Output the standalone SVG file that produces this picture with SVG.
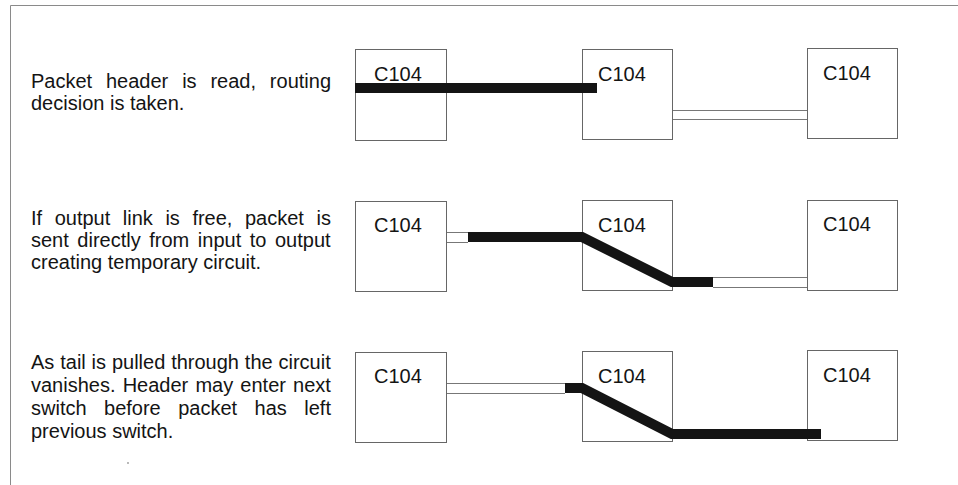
<svg xmlns="http://www.w3.org/2000/svg" width="958" height="485" viewBox="0 0 958 485">
<style>
  .box { fill: #ffffff; stroke: #666666; stroke-width: 1; }
  .lbl { font-family: "Liberation Sans", Arial, sans-serif; font-size: 20px; fill: #141414; }
  .txt { font-family: "Liberation Sans", Arial, sans-serif; font-size: 20px; fill: #141414; }
  .thick { fill: none; stroke: #141414; stroke-width: 10; stroke-linejoin: miter; stroke-linecap: butt; }
  .thin { fill: none; stroke: #777777; stroke-width: 1; }
  .frame { fill: none; stroke: #8a8a8a; stroke-width: 1; }
</style>
<rect x="0" y="0" width="958" height="485" fill="#ffffff"/>
<g id="frame">
  <path class="frame" d="M 10.5 485 L 10.5 5.5 L 958 5.5"/>
  <circle cx="128" cy="463" r="0.9" fill="#999999"/>
</g>

<g id="descriptions">
  <g id="desc1">
    <text class="txt" x="31" y="88" word-spacing="8.3">Packet header is read, routing</text>
    <text class="txt" x="31" y="110">decision is taken.</text>
  </g>
  <g id="desc2">
    <text class="txt" x="31" y="225" word-spacing="7">If output link is free, packet is</text>
    <text class="txt" x="31" y="247" word-spacing="3">sent directly from input to output</text>
    <text class="txt" x="31" y="269">creating temporary circuit.</text>
  </g>
  <g id="desc3">
    <text class="txt" x="31" y="369" word-spacing="0.3">As tail is pulled through the circuit</text>
    <text class="txt" x="31" y="392" word-spacing="1.6">vanishes. Header may enter next</text>
    <text class="txt" x="31" y="415" word-spacing="11.9">switch before packet has left</text>
    <text class="txt" x="31" y="438">previous switch.</text>
  </g>
</g>

<g id="row1-node1"><rect class="box" x="355.5" y="49.5" width="91" height="91"/><text class="lbl" x="374" y="81">C104</text></g>
<g id="row1-node2"><rect class="box" x="582.5" y="49.5" width="90" height="90"/><text class="lbl" x="598" y="81">C104</text></g>
<g id="row1-node3"><rect class="box" x="807.5" y="48.5" width="90" height="90"/><text class="lbl" x="823" y="80">C104</text></g>

<g id="row2-node1"><rect class="box" x="355.5" y="201.5" width="91" height="90"/><text class="lbl" x="374" y="232">C104</text></g>
<g id="row2-node2"><rect class="box" x="582.5" y="200.5" width="90" height="90"/><text class="lbl" x="598" y="232">C104</text></g>
<g id="row2-node3"><rect class="box" x="807.5" y="200.5" width="90" height="90"/><text class="lbl" x="823" y="231">C104</text></g>

<g id="row3-node1"><rect class="box" x="355.5" y="352.5" width="91" height="90"/><text class="lbl" x="374" y="383">C104</text></g>
<g id="row3-node2"><rect class="box" x="582.5" y="351.5" width="90" height="90"/><text class="lbl" x="598" y="383">C104</text></g>
<g id="row3-node3"><rect class="box" x="807.5" y="350.5" width="90" height="90"/><text class="lbl" x="823" y="382">C104</text></g>

<g id="connectors">
  <!-- row 1 -->
  <path class="thick" d="M 355 88 L 597 88"/>
  <path class="thin" d="M 673 110.5 L 807 110.5 M 673 119.5 L 807 119.5"/>
  <!-- row 2 -->
  <path class="thin" d="M 447 232.5 L 468 232.5 M 447 242.5 L 468 242.5"/>
  <path class="thick" d="M 468 237 L 582 237 L 672 282 L 713 282"/>
  <path class="thin" d="M 713 277.5 L 807 277.5 M 713 287.5 L 807 287.5"/>
  <!-- row 3 -->
  <path class="thin" d="M 447 383.5 L 565 383.5 M 447 393.5 L 565 393.5"/>
  <path class="thick" d="M 565 388 L 582 388 L 672 434 L 821 434"/>
</g>
</svg>
